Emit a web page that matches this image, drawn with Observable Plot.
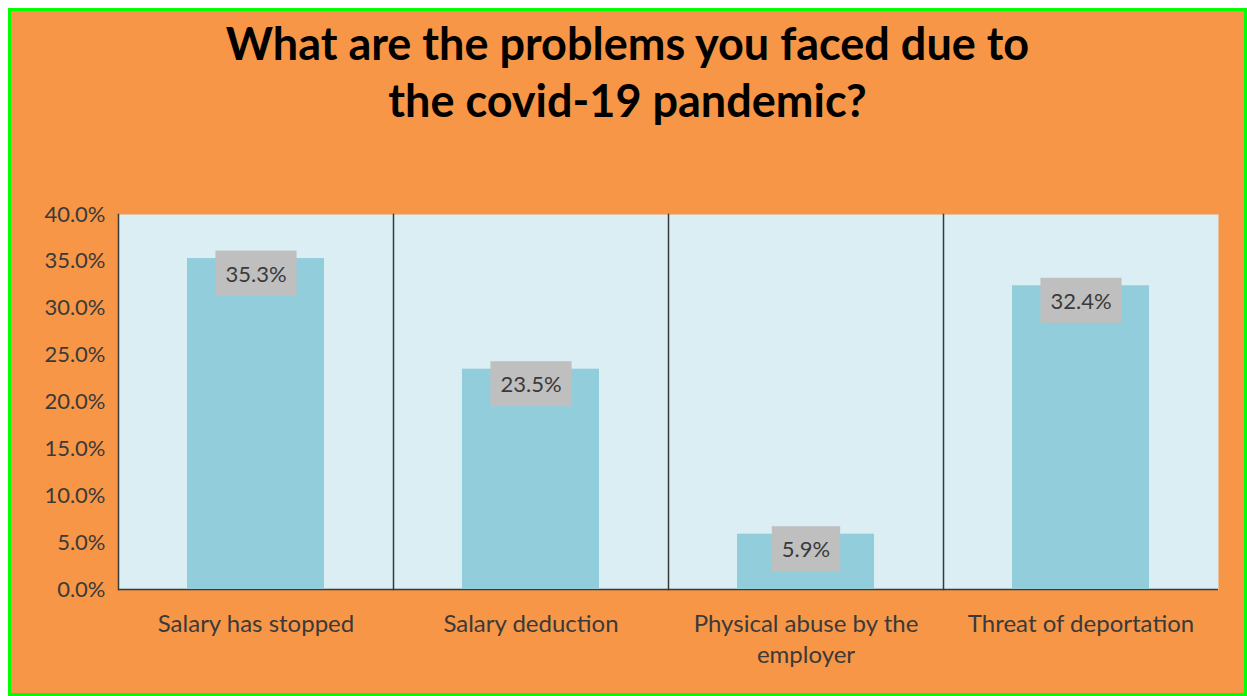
<!DOCTYPE html>
<html>
<head>
<meta charset="utf-8">
<script src="https://cdn.jsdelivr.net/npm/d3@7"></script>
<script src="https://cdn.jsdelivr.net/npm/@observablehq/plot@0.6"></script>
<style>
  html, body { margin: 0; padding: 0; background: #ffffff; width: 1247px; height: 696px; overflow: hidden; }
  #card { position: absolute; left: 8px; top: 8px; width: 1239px; height: 688px; box-sizing: border-box;
          border: 3px solid #00ff00; background: #f79646; }
  #title { position: absolute; left: 11px; top: 15px; width: 1233px; text-align: center;
           font: bold 45px Lato, sans-serif; line-height: 57px; color: #000000; }
  #chart { position: absolute; left: 0; top: 150px; }
</style>
</head>
<body>
<div id="card"></div>
<div id="title">What are the problems you faced due to<br>the covid-19 pandemic?</div>
<div id="chart"></div>
<script>
// Survey answers, one panel per problem
const categories = ["Salary has stopped", "Salary deduction", "Physical abuse by the employer", "Threat of deportation"];
const tickLabels = ["Salary has stopped", "Salary deduction", "Physical abuse by the\nemployer", "Threat of deportation"];
const shares = [0.353, 0.235, 0.059, 0.324];
const yTicks = [0, 0.05, 0.10, 0.15, 0.20, 0.25, 0.30, 0.35, 0.40];

const rows = categories.map((category, i) => ({category, value: shares[i]}));
const pct = d3.format(".1%");
const ink = "#3a3a3a";

const chart = Plot.plot({
  width: 1247,
  height: 530,
  marginLeft: 117,
  marginRight: 28,
  marginTop: 64,
  marginBottom: 91,
  style: {background: "transparent", fontFamily: "Lato, sans-serif", fontSize: "22px", color: ink, overflow: "visible"},
  fx: {domain: categories, padding: 0, label: null},
  y: {domain: [0, 0.4], label: null},
  marks: [
    Plot.frame({fill: "#daeef3", stroke: null}),
    Plot.frame({anchor: "left", stroke: "#3a3a3a", strokeWidth: 1.5}),
    Plot.ruleY([0], {stroke: "#3a3a3a", strokeWidth: 1.5}),
    Plot.barY(rows, {fx: "category", y: "value", fill: "#92cddc", insetLeft: 69, insetRight: 69}),
    Plot.text(rows, {fx: "category", y: "value", text: d => pct(d.value), dy: 16, fill: ink,
                     fontSize: 22, className: "value-label"}),
    Plot.axisY({ticks: yTicks, tickFormat: pct, tickSize: 0, tickPadding: 13, fontSize: 22, fill: ink, label: null}),
    Plot.axisFx({anchor: "bottom", tickSize: 0, tickPadding: 21, fontSize: 24, fill: ink, lineHeight: 1.27,
                 tickFormat: d => tickLabels[categories.indexOf(d)], label: null})
  ]
});

document.getElementById("chart").append(chart);

// Grey box behind each value label, sized from the rendered text
const padX = 10, padY = 9;
chart.querySelectorAll("g.value-label text").forEach(t => {
  const b = t.getBBox();
  const r = document.createElementNS("http://www.w3.org/2000/svg", "rect");
  r.setAttribute("x", b.x - padX);
  r.setAttribute("y", b.y - padY);
  r.setAttribute("width", b.width + 2 * padX);
  r.setAttribute("height", b.height + 2 * padY);
  r.setAttribute("fill", "#bfbfbf");
  if (t.getAttribute("transform")) r.setAttribute("transform", t.getAttribute("transform"));
  t.parentNode.insertBefore(r, t);
});
</script>
</body>
</html>
